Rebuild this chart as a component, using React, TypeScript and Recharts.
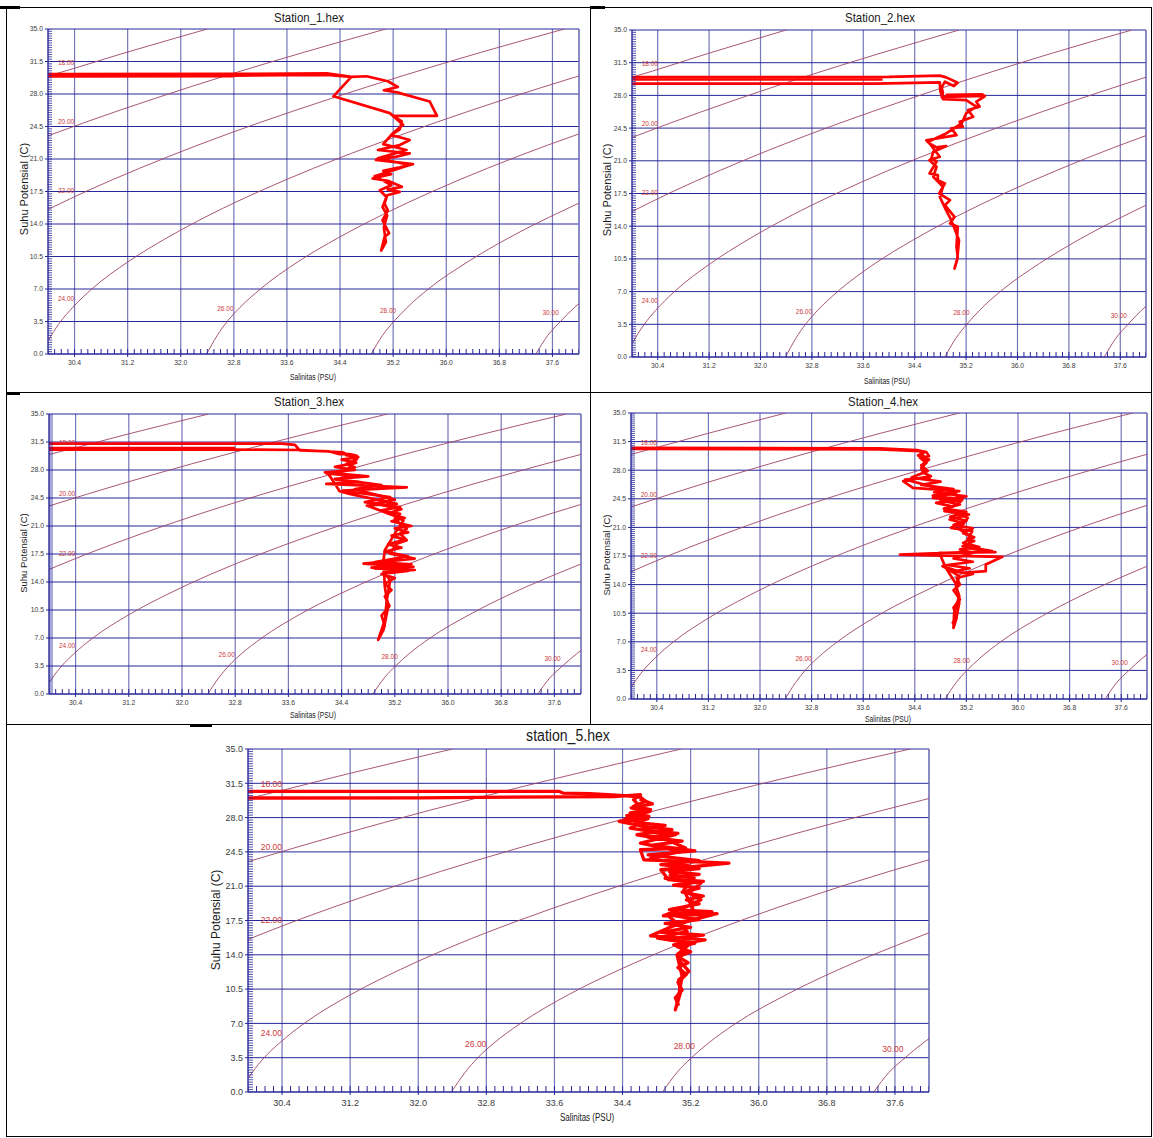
import React from 'react';
import { ComposedChart, Line, Scatter, XAxis, YAxis, CartesianGrid, ReferenceLine } from 'recharts';

type Pair = [number, number];

const salinityTicks = [30.4, 31.2, 32.0, 32.8, 33.6, 34.4, 35.2, 36.0, 36.8, 37.6];
const temperatureTicks = [0, 3.5, 7, 10.5, 14, 17.5, 21, 24.5, 28, 31.5, 35];
const salinityMinorTicks = Array.from({ length: 81 }, (_, i) => +(30 + i * 0.1).toFixed(1));
const temperatureMinorTicks = Array.from({ length: 141 }, (_, i) => i * 0.25);

// sigma-t isopycnals (S, T)
const sigma18: Pair[] = [[30.0, 29.94], [30.03, 30], [31.19, 32.5], [32.4, 35]];
const sigma20: Pair[] = [[30.0, 23.5], [30.58, 25], [31.6, 27.5], [32.69, 30], [33.86, 32.5], [35.09, 35]];
const sigma22: Pair[] = [[30.0, 15.57], [30.57, 17.5], [31.38, 20], [32.26, 22.5], [33.22, 25], [34.26, 27.5], [35.36, 30], [36.53, 32.5], [37.78, 35]];
const sigma24: Pair[] = [[30.01, 1.5], [30.05, 2], [30.19, 3.5], [30.37, 5], [30.66, 7], [31.22, 10], [31.79, 12.5], [32.44, 15], [33.18, 17.5], [34.0, 20], [34.9, 22.5], [35.87, 25], [36.91, 27.5], [38.0, 29.95]];
const sigma26: Pair[] = [[32.39, 0], [32.55, 2], [32.7, 3.5], [32.89, 5], [33.2, 7], [33.78, 10], [34.37, 12.5], [35.04, 15], [35.79, 17.5], [36.62, 20], [37.53, 22.5], [38.0, 23.7]];
const sigma28: Pair[] = [[34.87, 0], [35.04, 2], [35.21, 3.5], [35.41, 5], [35.73, 7], [36.34, 10], [36.94, 12.5], [37.63, 15], [38.0, 16.25]];
const sigma30: Pair[] = [[37.35, 0], [37.53, 2], [37.72, 3.5], [37.93, 5], [38.0, 5.45]];
const densityContours = [sigma18, sigma20, sigma22, sigma24, sigma26, sigma28, sigma30];

const densityLabels = [
  { s: 30.15, t: 31.4, label: '18.00' },
  { s: 30.15, t: 25.0, label: '20.00' },
  { s: 30.15, t: 17.6, label: '22.00' },
  { s: 30.15, t: 6.0, label: '24.00' },
  { s: 32.55, t: 4.9, label: '26.00' },
  { s: 35.0, t: 4.7, label: '28.00' },
  { s: 37.45, t: 4.4, label: '30.00' },
];

// CTD profiles (salinity, potential temperature)
const station1: Pair[][] = [
  [[30.0, 29.9], [32.8, 29.92]],
  [[30.0, 30.15], [32.8, 30.17], [34.2, 30.22], [34.57, 29.84], [34.8, 29.91], [35.12, 29.37], [35.27, 28.76], [35.06, 28.4], [35.26, 28.18], [35.75, 27.2], [35.86, 25.65], [35.2, 25.65], [35.33, 25.04], [35.3, 24.2], [35.17, 23.6], [35.45, 23.05], [35.3, 22.5], [34.97, 21.97], [35.45, 21.6], [35.25, 21.25], [34.94, 20.9], [35.5, 20.45], [35.3, 20.1], [35.05, 19.73], [35.17, 19.37], [34.89, 18.9], [35.12, 18.65], [35.33, 18.0], [35.12, 17.7], [35.3, 17.46], [35.11, 17.1], [35.07, 16.2], [35.12, 15.47], [35.04, 14.4], [35.14, 13.0], [35.07, 12.6], [35.02, 11.14],
    [35.09, 12.04], [35.06, 13.67], [35.11, 14.93], [35.04, 15.83], [35.1, 16.9], [35.0, 17.64], [35.17, 18.18], [34.92, 19.15], [35.45, 20.35], [34.97, 21.07], [35.4, 21.97], [35.05, 22.6], [35.2, 23.8], [35.35, 24.68], [35.15, 25.94], [34.3, 27.75], [34.57, 29.84], [34.2, 30.05], [32.8, 29.98]],
];

const station2: Pair[][] = [
  [[33.9, 29.7], [30.0, 29.7]],
  [[30.0, 29.95], [34.0, 29.98], [34.79, 30.12], [34.89, 29.93], [35.07, 29.36], [35.01, 29.0], [34.87, 29.47], [34.82, 28.86], [34.84, 28.22], [34.82, 27.85], [35.49, 27.95], [34.9, 28.05], [35.45, 28.1], [35.49, 27.9], [35.36, 27.33], [35.41, 26.79], [35.23, 26.43], [35.31, 25.72], [35.1, 25.18], [35.15, 24.65], [34.97, 24.47], [35.05, 23.75], [34.58, 23.2], [34.63, 22.86], [34.74, 22.43], [34.89, 22.58], [34.69, 21.97], [34.66, 21.25], [34.74, 20.9], [34.63, 19.65], [34.76, 19.47], [34.76, 18.93], [34.87, 18.58], [34.78, 17.5], [34.95, 16.79], [34.87, 16.25], [35.02, 15.0], [34.95, 14.29], [35.07, 13.93], [35.05, 11.79], [35.07, 10.72], [35.02, 9.47],
    [35.06, 10.36], [35.09, 12.5], [34.97, 14.64], [34.89, 15.7], [34.79, 17.15], [34.84, 18.22], [34.69, 19.29], [34.74, 20.36], [34.63, 21.07], [34.79, 21.43], [34.61, 23.04], [34.89, 23.93], [35.13, 25.0], [35.2, 26.07], [35.36, 26.79], [35.2, 27.5], [34.84, 27.6], [34.8, 28.4], [34.79, 29.4], [34.4, 29.35], [33.8, 29.25], [30.0, 29.25]],
];

const station3: Pair[][] = [
  [[32.8, 30.75], [30.0, 30.75]],
  [[30.0, 31.3], [33.5, 31.3], [33.7, 31.15], [33.77, 30.45], [34.22, 30.32], [34.37, 29.99], [34.52, 29.99], [34.63, 29.78], [34.58, 29.16], [34.47, 28.75], [34.6, 28.33], [34.43, 27.92], [34.17, 27.58], [34.53, 27.3], [34.32, 26.76], [34.7, 26.47], [34.17, 26.26], [35.38, 25.84], [34.42, 25.43], [35.13, 24.6], [34.75, 23.98], [35.28, 23.35], [34.98, 22.94], [35.28, 22.53], [35.2, 21.9], [35.28, 21.28], [35.38, 20.66], [35.28, 20.04], [35.38, 19.21], [35.23, 18.79], [35.13, 17.55], [35.5, 16.93], [34.73, 16.3], [35.48, 15.89], [34.9, 15.7], [35.5, 15.5], [35.03, 15.27], [35.13, 14.23], [35.08, 11.74], [35.05, 9.25], [34.95, 6.76],
    [35.03, 8.01], [35.1, 10.91], [35.05, 13.4], [35.03, 16.72], [35.05, 17.96], [35.23, 20.45], [35.33, 21.7], [35.18, 22.32], [34.78, 23.56], [35.23, 23.77], [34.52, 25.01], [34.37, 25.35], [34.27, 26.67], [34.2, 27.5], [34.47, 27.92], [34.63, 29.37], [34.42, 30.2], [33.8, 30.5], [32.8, 30.55], [30.0, 30.55]],
  [[34.45, 29.9], [34.65, 29.6], [34.4, 29.3], [34.62, 28.9], [34.3, 28.4], [34.6, 28.0], [34.15, 27.7], [34.8, 27.2], [34.3, 26.9], [35.0, 26.1], [34.6, 25.6], [35.2, 24.3], [34.9, 23.8], [35.3, 23.1], [35.1, 22.6], [35.35, 22.0], [35.15, 21.6], [35.45, 21.0], [35.2, 20.7], [35.4, 20.2], [35.15, 19.8], [35.35, 19.3], [35.1, 18.7], [35.3, 18.3], [35.05, 17.8], [35.4, 17.2], [34.9, 16.5], [35.45, 16.2], [34.85, 15.8], [35.4, 15.4], [35.0, 15.0], [35.2, 14.5], [35.05, 13.8], [35.15, 13.0], [35.05, 12.2], [35.12, 11.0], [35.0, 9.8], [35.05, 8.6], [34.98, 7.5]],
];

const station4: Pair[][] = [
  [[30.0, 30.72], [33.86, 30.68], [34.43, 30.45], [34.58, 30.21], [34.62, 29.72], [34.48, 29.52], [34.58, 28.9], [34.5, 28.29], [34.53, 27.68], [34.65, 27.27], [34.22, 26.66], [34.37, 25.84], [35.09, 25.44], [34.68, 24.9], [35.14, 24.42], [34.73, 24.0], [34.96, 23.6], [34.86, 22.99], [35.24, 22.58], [34.94, 21.97], [35.14, 21.56], [34.96, 20.95], [35.29, 20.54], [35.22, 19.52], [35.32, 19.32], [35.14, 18.7], [35.6, 18.09], [34.17, 17.68], [35.76, 17.4], [35.5, 16.46], [35.5, 15.64], [35.14, 15.44], [34.83, 16.26], [34.96, 15.64], [35.09, 15.03], [35.04, 13.81], [35.09, 12.58], [35.01, 10.54], [35.0, 8.71],
    [35.04, 9.73], [35.09, 11.77], [35.03, 14.2], [34.88, 16.05], [34.78, 17.89], [35.65, 17.97], [35.22, 18.5], [35.27, 19.93], [35.09, 20.75], [35.22, 22.17], [34.91, 23.19], [35.12, 24.21], [34.68, 24.62], [35.04, 25.23], [34.25, 26.86], [34.63, 27.07], [34.52, 28.09], [34.57, 29.31], [34.48, 30.33], [33.86, 30.55], [30.0, 30.6]],
  [[34.55, 30.2], [34.45, 29.8], [34.62, 29.3], [34.5, 28.6], [34.6, 27.9], [34.35, 27.1], [34.8, 26.6], [34.5, 26.2], [35.0, 25.7], [34.7, 25.3], [35.2, 24.8], [34.8, 24.3], [35.1, 23.8], [34.85, 23.3], [35.2, 22.9], [34.95, 22.3], [35.2, 21.8], [35.0, 21.3], [35.3, 20.9], [35.15, 20.3], [35.32, 19.8], [35.15, 19.1], [35.4, 18.6], [35.1, 18.3], [35.3, 17.9], [35.0, 17.2], [35.3, 16.8], [34.9, 16.4], [35.25, 16.0], [35.0, 15.6], [35.3, 15.3], [35.05, 14.8], [35.1, 14.0], [35.0, 13.3], [35.1, 12.2], [35.0, 11.2], [35.05, 10.0], [34.98, 9.2]],
];

const station5: Pair[][] = [
  [[30.0, 30.68], [33.65, 30.68], [33.7, 30.5], [34.02, 30.44], [34.42, 30.24], [34.61, 30.1], [34.67, 29.66], [34.53, 29.15], [34.73, 28.81], [34.49, 28.47], [34.71, 28.13], [34.36, 27.62], [34.65, 27.1], [34.98, 26.76], [34.57, 26.25], [34.92, 25.74], [35.14, 24.89], [34.61, 24.72], [34.65, 23.7], [35.65, 23.36], [34.85, 22.68], [34.94, 21.66], [35.32, 21.32], [35.18, 20.3], [35.32, 19.62], [35.16, 18.94], [34.88, 17.98], [35.51, 18.19], [35.22, 17.57], [34.98, 16.89], [34.73, 15.94], [35.37, 15.53], [35.0, 15.02], [35.14, 14.51], [35.06, 13.49], [35.18, 12.3], [35.06, 11.45], [35.08, 10.09], [35.02, 8.38],
    [35.05, 9.4], [35.1, 11.79], [35.04, 14.0], [35.2, 15.19], [34.81, 15.7], [35.16, 16.38], [34.92, 18.08], [35.24, 18.43], [35.12, 20.64], [35.24, 21.83], [34.96, 22.17], [35.2, 23.02], [34.73, 23.87], [35.08, 24.55], [34.61, 25.4], [35.02, 26.25], [34.49, 26.93], [34.63, 27.62], [34.42, 27.79], [34.65, 28.64], [34.53, 29.83], [34.61, 30.34], [34.3, 30.15], [32.0, 30.02], [30.0, 30.0]],
  [[34.6, 29.9], [34.75, 29.4], [34.5, 29.0], [34.72, 28.6], [34.45, 28.2], [34.7, 27.9], [34.55, 27.5], [34.9, 27.2], [34.6, 26.8], [35.05, 26.4], [34.7, 26.0], [35.1, 25.6], [34.75, 25.2], [35.25, 24.6], [34.7, 24.2], [35.3, 23.6], [34.85, 23.2], [35.3, 22.8], [34.95, 22.5], [35.3, 22.2], [34.9, 21.8], [35.35, 21.5], [35.0, 21.1], [35.3, 20.8], [35.1, 20.4], [35.35, 20.0], [35.15, 19.6], [35.3, 19.2], [34.95, 18.6], [35.45, 18.4], [35.0, 18.0], [35.3, 17.6], [34.9, 17.2], [35.2, 16.8], [34.85, 16.3], [35.35, 16.0], [34.9, 15.6], [35.25, 15.2], [35.05, 14.8], [35.2, 14.3], [35.05, 13.8], [35.17, 13.2], [35.05, 12.7], [35.15, 12.0], [35.05, 11.2], [35.1, 10.4], [35.02, 9.6], [35.06, 8.8]],
];

const FONT = '"Liberation Sans", Arial, Helvetica, sans-serif';
const GRID_H = '#27279a';
const GRID_V = '#7676ba';
const CONTOUR = '#9e4466';
const CONTOUR_TEXT = '#cc3a3a';
const TRACE = '#ff0000';

const toPts = (pairs: Pair[]) => pairs.map(([s, t]) => ({ s, t }));
const xMinorPts = salinityMinorTicks.map((s) => ({ s, t: 0 }));
const yMinorPts = temperatureMinorTicks.map((t) => ({ s: 30, t }));

type PanelCfg = {
  title: string;
  plot: { x: number; y: number; w: number; h: number };
  titlePos: [number, number];
  xLabelPos: [number, number];
  yLabelPos: [number, number];
  segments: Pair[][];
  big?: boolean;
};

const panels: PanelCfg[] = [
  { title: 'Station_1.hex', plot: { x: 48, y: 29, w: 531, h: 325 }, titlePos: [309, 17], xLabelPos: [313, 377], yLabelPos: [24, 189], segments: station1 },
  { title: 'Station_2.hex', plot: { x: 632, y: 30, w: 514, h: 327 }, titlePos: [880, 17], xLabelPos: [887, 381], yLabelPos: [608, 190], segments: station2 },
  { title: 'Station_3.hex', plot: { x: 49, y: 414, w: 532, h: 280 }, titlePos: [309, 401], xLabelPos: [313, 715], yLabelPos: [24, 553], segments: station3 },
  { title: 'Station_4.hex', plot: { x: 631, y: 413, w: 516, h: 286 }, titlePos: [883, 401], xLabelPos: [888, 719], yLabelPos: [607, 555], segments: station4 },
  { title: 'station_5.hex', plot: { x: 248, y: 749, w: 681, h: 343 }, titlePos: [568, 736], xLabelPos: [587, 1118], yLabelPos: [216, 920], segments: station5, big: true },
];

function XTick(props: any) {
  const { x, y, payload, fs } = props;
  return (
    <text x={x} y={y + fs * 0.8} textAnchor="middle" fontSize={fs} fontFamily={FONT} fill="#3a3a3a">
      {Number(payload.value).toFixed(1)}
    </text>
  );
}

function YTick(props: any) {
  const { x, y, payload, fs } = props;
  return (
    <text x={x} y={y + fs * 0.36} textAnchor="end" fontSize={fs} fontFamily={FONT} fill="#3a3a3a">
      {Number(payload.value).toFixed(1)}
    </text>
  );
}

function TSPanel({ cfg }: { cfg: PanelCfg }) {
  const { x, y, w, h } = cfg.plot;
  const big = !!cfg.big;
  const padL = 50;
  const padT = 8;
  const padR = 8;
  const padB = 30;
  const tickFs = big ? 9 : 6.8;
  const labelFs = big ? 8.5 : 6.5;
  const titleFs = big ? 16 : 13;
  const axisFs = big ? 10 : 8.5;
  const yAxisFs = big ? 12 : (11 * h) / 325;
  const xMinorLen = big ? 6 : 5;
  const yMinorLen = big ? 5 : 4;

  const textBase: React.CSSProperties = {
    position: 'absolute',
    fontFamily: FONT,
    whiteSpace: 'nowrap',
    color: '#1a1a1a',
    lineHeight: 1,
  };

  return (
    <>
      <div style={{ position: 'absolute', left: x - padL, top: y - padT }}>
        <ComposedChart
          width={w + padL + padR}
          height={h + padT + padB}
          margin={{ top: padT, right: padR, bottom: 0, left: 0 }}
        >
          <CartesianGrid horizontal={false} stroke={GRID_V} strokeWidth={1.2} />
          <CartesianGrid vertical={false} stroke={GRID_H} />
          <XAxis
            dataKey="s"
            type="number"
            domain={[30, 38]}
            allowDataOverflow
            ticks={salinityTicks}
            interval={0}
            height={padB}
            tickSize={3}
            tickMargin={big ? 4 : 3}
            stroke={GRID_H}
            tick={<XTick fs={tickFs} />}
          />
          <YAxis
            dataKey="t"
            type="number"
            domain={[0, 35]}
            allowDataOverflow
            ticks={temperatureTicks}
            interval={0}
            width={padL}
            tickSize={3}
            tickMargin={2}
            stroke={GRID_H}
            tick={<YTick fs={tickFs} />}
          />
          <ReferenceLine x={38} stroke={GRID_V} strokeWidth={1.2} />
          <Scatter
            data={xMinorPts}
            isAnimationActive={false}
            shape={(p: any) => (
              <line x1={p.cx} y1={p.cy} x2={p.cx} y2={p.cy - xMinorLen} stroke={GRID_H} strokeWidth={1} />
            )}
          />
          <Scatter
            data={yMinorPts}
            isAnimationActive={false}
            shape={(p: any) => (
              <line x1={p.cx} y1={p.cy} x2={p.cx + yMinorLen} y2={p.cy} stroke={GRID_H} strokeWidth={0.8} />
            )}
          />
          {densityContours.map((c, i) => (
            <Line
              key={`c${i}`}
              data={toPts(c)}
              dataKey="t"
              type="monotone"
              stroke={CONTOUR}
              strokeWidth={0.9}
              dot={false}
              isAnimationActive={false}
            />
          ))}
          <Scatter
            data={densityLabels}
            isAnimationActive={false}
            shape={(p: any) => (
              <text
                x={p.cx}
                y={p.cy + labelFs * 0.36}
                fontSize={labelFs}
                fontFamily={FONT}
                fill={CONTOUR_TEXT}
              >
                {p.payload.label}
              </text>
            )}
          />
          {cfg.segments.map((seg, i) => (
            <Line
              key={`s${i}`}
              data={toPts(seg)}
              dataKey="t"
              type="linear"
              stroke={TRACE}
              strokeWidth={big ? 3.3 : 2.7}
              strokeLinejoin="round"
              dot={false}
              isAnimationActive={false}
            />
          ))}
        </ComposedChart>
      </div>
      <div
        style={{
          ...textBase,
          left: cfg.titlePos[0],
          top: cfg.titlePos[1],
          fontSize: titleFs,
          transform: 'translate(-50%, -50%) scaleX(0.88)',
        }}
      >
        {cfg.title}
      </div>
      <div
        style={{
          ...textBase,
          left: cfg.xLabelPos[0],
          top: cfg.xLabelPos[1],
          fontSize: axisFs,
          transform: 'translate(-50%, -50%) scaleX(0.8)',
        }}
      >
        Salinitas (PSU)
      </div>
      <div
        style={{
          ...textBase,
          left: cfg.yLabelPos[0],
          top: cfg.yLabelPos[1],
          fontSize: yAxisFs,
          transform: 'translate(-50%, -50%) rotate(-90deg)',
        }}
      >
        Suhu Potensial (C)
      </div>
    </>
  );
}

function Rule({ x, y, w, h }: { x: number; y: number; w: number; h: number }) {
  return <div style={{ position: 'absolute', left: x, top: y, width: w, height: h, background: '#000' }} />;
}

export default function App() {
  return (
    <div
      style={{
        position: 'absolute',
        left: 0,
        top: 0,
        width: 1153,
        height: 1138,
        background: '#fff',
        overflow: 'hidden',
      }}
    >
      {panels.map((p) => (
        <TSPanel key={p.title} cfg={p} />
      ))}
      <Rule x={6} y={7} w={1146} h={1} />
      <Rule x={0} y={6} w={20} h={3} />
      <Rule x={590} y={6} w={15} h={3} />
      <Rule x={6} y={392} w={1146} h={1} />
      <Rule x={7} y={392} w={13} h={3} />
      <Rule x={6} y={724} w={1146} h={1} />
      <Rule x={190} y={724} w={22} h={3} />
      <Rule x={6} y={1136} w={1146} h={1} />
      <Rule x={6} y={7} w={1} h={1130} />
      <Rule x={1151} y={7} w={1} h={1130} />
      <Rule x={590} y={7} w={1} h={718} />
    </div>
  );
}
